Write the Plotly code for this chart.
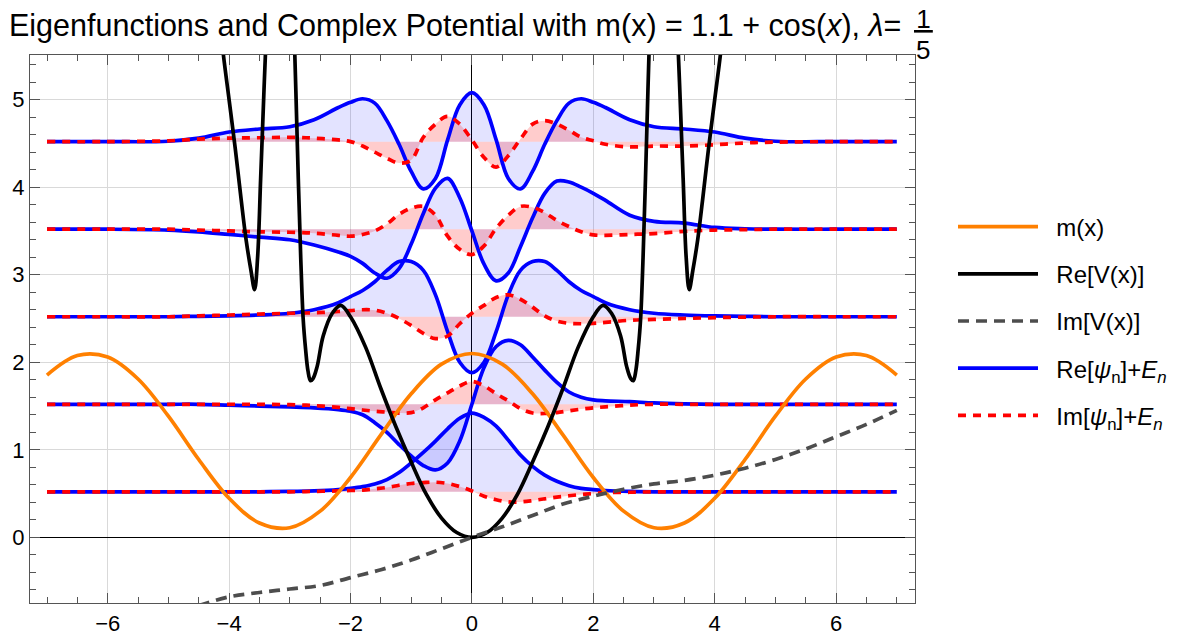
import plotly.graph_objects as go

# ---------------- data ----------------
X_M = [-7, -6.5, -6, -5.5, -5, -4.5, -4, -3.5, -3, -2.5, -2, -1.5, -1, -0.5, 0,
       0.5, 1, 1.5, 2, 2.5, 3, 3.5, 4, 4.5, 5, 5.5, 6, 6.5, 7]
M_VALS = [1.854, 2.077, 2.060, 1.809, 1.384, 0.889, 0.446, 0.164, 0.110, 0.299, 0.684, 1.171, 1.640, 1.978, 2.100,
          1.978, 1.640, 1.171, 0.684, 0.299, 0.110, 0.164, 0.446, 0.889, 1.384, 1.809, 2.060, 2.077, 1.854]

X_REV = [-4.16, -4.1, -4.0, -3.9, -3.8, -3.72, -3.64, -3.58, -3.53, -3.48, -3.42, -3.35, None,
         -2.95, -2.90, -2.86, -2.82, -2.78, -2.74, -2.70, -2.66, -2.62, -2.55, -2.45, -2.3, -2.16, -2.0,
         -1.75, -1.5, -1.25, -1.0, -0.75, -0.5, -0.25, 0,
         0.25, 0.5, 0.75, 1.0, 1.25, 1.5, 1.75,
         2.0, 2.16, 2.3, 2.45, 2.55, 2.62, 2.66, 2.70, 2.74, 2.78, 2.82, 2.86, 2.90, 2.95, None,
         3.35, 3.42, 3.48, 3.53, 3.58, 3.64, 3.72, 3.8, 3.9, 4.0, 4.1, 4.16]
RE_V = [6.0, 5.55, 5.0, 4.45, 3.85, 3.4, 3.05, 2.83, 3.2, 4.1, 5.2, 6.4, None,
        6.3, 5.1, 4.1, 3.2, 2.5, 2.15, 1.90, 1.79, 1.81, 1.95, 2.30, 2.56, 2.65, 2.52,
        2.17, 1.70, 1.26, 0.86, 0.49, 0.22, 0.055, 0.0,
        0.055, 0.22, 0.49, 0.86, 1.26, 1.70, 2.17,
        2.52, 2.65, 2.56, 2.30, 1.95, 1.81, 1.79, 1.90, 2.15, 2.5, 3.2, 4.1, 5.1, 6.3, None,
        6.4, 5.2, 4.1, 3.2, 2.83, 3.05, 3.4, 3.85, 4.45, 5.0, 5.55, 6.0]

X_IMV = [-4.5, -4, -3.5, -3, -2.5, -2, -1.5, -1, -0.5, 0, 0.5, 1, 1.5, 2, 2.5, 3, 3.5, 4, 4.5, 5, 5.5, 6, 6.5, 7]
IM_V = [-0.78, -0.68, -0.63, -0.59, -0.55, -0.46, -0.37, -0.26, -0.13, 0.0, 0.12, 0.25, 0.38, 0.47, 0.55,
        0.61, 0.65, 0.71, 0.79, 0.89, 1.01, 1.15, 1.29, 1.45]

E_N = [0.52, 1.52, 2.52, 3.52, 4.52]

X_PSI = [-7, -6, -5, -4.5, -4, -3.5, -3, -2.6, -2.2, -2.0, -1.8, -1.6, -1.4, -1.2, -1.0, -0.8, -0.6, -0.4, -0.2,
         0, 0.2, 0.4, 0.6, 0.8, 1.0, 1.2, 1.4, 1.6, 1.8, 2.0, 2.2, 2.6, 3, 3.5, 4, 4.5, 5, 6, 7]

RE_PSI0 = [0, 0, 0, 0, 0, 0, 0.005, 0.01, 0.025, 0.04, 0.06, 0.09, 0.14, 0.22, 0.33, 0.45, 0.58, 0.72, 0.84,
           0.90, 0.85, 0.75, 0.59, 0.42, 0.29, 0.19, 0.12, 0.07, 0.04, 0.025, 0.015, 0.005, 0, 0, 0, 0, 0, 0, 0]
IM_PSI0 = [0, 0, 0, 0, 0, 0, 0, 0.005, 0.01, 0.015, 0.02, 0.035, 0.05, 0.075, 0.095, 0.105, 0.11, 0.095, 0.06,
           0.01, -0.05, -0.09, -0.115, -0.115, -0.10, -0.08, -0.06, -0.045, -0.03, -0.02, -0.01, -0.005, 0, 0, 0, 0, 0, 0, 0]
RE_PSI1 = [0, 0, 0, 0, -0.01, -0.02, -0.03, -0.04, -0.06, -0.08, -0.12, -0.21, -0.32, -0.46, -0.59, -0.70, -0.75, -0.67, -0.42,
           0.0, 0.42, 0.66, 0.73, 0.68, 0.54, 0.39, 0.25, 0.14, 0.08, 0.05, 0.04, 0.03, 0.015, 0.005, 0, 0, 0, 0, 0]
IM_PSI1 = [0, 0, 0, 0, 0, 0, -0.005, -0.015, -0.035, -0.05, -0.065, -0.08, -0.09, -0.10, -0.095, -0.04, 0.05, 0.13, 0.21,
           0.26, 0.21, 0.12, 0.04, -0.05, -0.10, -0.105, -0.095, -0.075, -0.055, -0.04, -0.03, -0.01, 0, 0, 0, 0, 0, 0, 0]
RE_PSI2 = [0, 0, 0, 0.005, 0.01, 0.02, 0.04, 0.08, 0.16, 0.23, 0.30, 0.40, 0.53, 0.63, 0.63, 0.53, 0.25, -0.17, -0.52,
           -0.64, -0.52, -0.17, 0.25, 0.53, 0.63, 0.63, 0.53, 0.40, 0.30, 0.23, 0.16, 0.08, 0.04, 0.02, 0.01, 0.005, 0, 0, 0]
IM_PSI2 = [0, 0, 0, 0.01, 0.02, 0.03, 0.04, 0.045, 0.06, 0.07, 0.08, 0.075, 0.04, -0.02, -0.10, -0.19, -0.25, -0.22, -0.08,
           0.04, 0.13, 0.22, 0.25, 0.20, 0.11, 0.01, -0.05, -0.075, -0.08, -0.075, -0.065, -0.04, -0.03, -0.02, -0.01, -0.005, 0, 0, 0]
RE_PSI3 = [0, 0, -0.01, -0.03, -0.06, -0.09, -0.12, -0.18, -0.26, -0.31, -0.39, -0.50, -0.56, -0.45, -0.17, 0.18, 0.47, 0.58, 0.36,
           -0.02, -0.40, -0.59, -0.50, -0.20, 0.13, 0.41, 0.55, 0.54, 0.48, 0.41, 0.33, 0.16, 0.09, 0.07, 0.02, 0.005, 0, 0, 0]
IM_PSI3 = [0, 0, 0, -0.01, -0.02, -0.03, -0.035, -0.045, -0.07, -0.08, -0.06, -0.02, 0.06, 0.17, 0.24, 0.26, 0.16, -0.08, -0.23,
           -0.29, -0.19, 0.01, 0.16, 0.26, 0.25, 0.19, 0.10, 0.03, -0.03, -0.065, -0.07, -0.06, -0.05, -0.025, -0.01, -0.005, 0, 0, 0]
RE_PSI4 = [0, 0, 0.005, 0.04, 0.11, 0.145, 0.17, 0.25, 0.39, 0.45, 0.49, 0.44, 0.24, -0.03, -0.34, -0.54, -0.42, 0.02, 0.42,
           0.56, 0.42, 0.02, -0.42, -0.54, -0.34, -0.03, 0.24, 0.44, 0.49, 0.45, 0.39, 0.25, 0.17, 0.145, 0.11, 0.04, 0.005, 0, 0]
IM_PSI4 = [0, 0, 0.01, 0.03, 0.04, 0.045, 0.05, 0.04, 0.02, 0.0, -0.05, -0.12, -0.19, -0.245, -0.21, 0.05, 0.20, 0.29, 0.20,
           0.02, -0.18, -0.29, -0.16, 0.03, 0.20, 0.24, 0.20, 0.13, 0.05, 0.01, -0.03, -0.06, -0.05, -0.05, -0.035, -0.015, -0.005, 0, 0]

RE_PSI = [RE_PSI0, RE_PSI1, RE_PSI2, RE_PSI3, RE_PSI4]
IM_PSI = [IM_PSI0, IM_PSI1, IM_PSI2, IM_PSI3, IM_PSI4]

X_TICKS = [-6, -4, -2, 0, 2, 4, 6]
Y_TICKS = [0, 1, 2, 3, 4, 5]

# ---------------- styles ----------------
FONT = "Liberation Sans, Arial, sans-serif"
BLUE = "#0000FF"
RED = "#FF0000"
ORANGE = "#FF8000"
GRAY = "#4D4D4D"
FILL_RE = "rgba(0,0,255,0.11)"
FILL_IM = "rgba(255,0,0,0.20)"
FRAME = "#555555"
LW = 3.7

# plot-area pixel box (used for placing the title fraction)
L, R, T, B = 30, 915, 55, 603
W_PLOT, H_PLOT = R - L, B - T

fig = go.Figure()

# fills between each curve and its energy level
for n, E in enumerate(E_N):
    for vals, col in ((RE_PSI[n], FILL_RE), (IM_PSI[n], FILL_IM)):
        fig.add_trace(go.Scatter(x=X_PSI, y=[E] * len(X_PSI), mode="lines", line=dict(width=0),
                                 showlegend=False, hoverinfo="skip"))
        fig.add_trace(go.Scatter(x=X_PSI, y=[E + v for v in vals], mode="lines",
                                 line=dict(width=0, shape="spline"), fill="tonexty", fillcolor=col,
                                 showlegend=False, hoverinfo="skip"))

SP = "\u00a0\u00a0"
# real parts (blue)
for n, E in enumerate(E_N):
    fig.add_trace(go.Scatter(x=X_PSI, y=[E + v for v in RE_PSI[n]], mode="lines",
                             line=dict(color=BLUE, width=LW, shape="spline"),
                             name=SP + "Re[<i>ψ</i><sub>n</sub>]+<i>E<sub>n</sub></i>", legendgroup="re",
                             legendrank=4, showlegend=(n == 0)))
# imaginary parts (red dashed)
for n, E in enumerate(E_N):
    fig.add_trace(go.Scatter(x=X_PSI, y=[E + v for v in IM_PSI[n]], mode="lines",
                             line=dict(color=RED, width=LW, dash="8px,7px", shape="spline"),
                             name=SP + "Im[<i>ψ</i><sub>n</sub>]+<i>E<sub>n</sub></i>", legendgroup="im",
                             legendrank=5, showlegend=(n == 0)))

fig.add_trace(go.Scatter(x=X_M, y=M_VALS, mode="lines", line=dict(color=ORANGE, width=LW, shape="spline"),
                         name=SP + "m(x)", legendgroup="m", legendrank=1))
fig.add_trace(go.Scatter(x=X_REV, y=RE_V, mode="lines", line=dict(color="black", width=LW, shape="spline"),
                         name=SP + "Re[V(x)]", legendgroup="rv", legendrank=2, connectgaps=False))
fig.add_trace(go.Scatter(x=X_IMV, y=IM_V, mode="lines",
                         line=dict(color=GRAY, width=LW, dash="11px,7px", shape="spline"),
                         name=SP + "Im[V(x)]", legendgroup="iv", legendrank=3))

axis_common = dict(showgrid=True, gridcolor="#d9d9d9", gridwidth=1,
                   zeroline=True, zerolinecolor="black", zerolinewidth=1.2,
                   showline=True, linecolor=FRAME, linewidth=1.2, mirror="ticks",
                   ticks="inside", ticklen=10, tickwidth=1, tickcolor=FRAME, automargin=False,
                   tickfont=dict(family=FONT, size=22, color="black"))

fig.update_layout(
    width=1184, height=634, autosize=False,
    margin=dict(l=L, r=1184 - R, t=T, b=634 - B, autoexpand=False),
    paper_bgcolor="white", plot_bgcolor="white",
    font=dict(family=FONT, color="black"),
    title=dict(text="Eigenfunctions and Complex Potential with m(x) = 1.1 + cos(<i>x</i>), <i>λ</i>=",
               x=9 / 1184, xanchor="left", y=1 - 25 / 634, yanchor="middle",
               font=dict(family=FONT, size=30.5, color="black")),
    xaxis=dict(range=[-7.28, 7.30], tickvals=X_TICKS,
               minor=dict(ticks="inside", dtick=0.5, tick0=0, ticklen=6, tickcolor=FRAME, showgrid=False),
               **axis_common),
    yaxis=dict(range=[-0.75, 5.51], tickvals=Y_TICKS,
               minor=dict(ticks="inside", dtick=0.2, tick0=0, ticklen=6, tickcolor=FRAME, showgrid=False),
               **axis_common),
    legend=dict(x=(953 - L) / W_PLOT, xanchor="left", y=(B - 321) / H_PLOT, yanchor="middle",
                font=dict(family=FONT, size=24, color="black"), itemwidth=80,
                tracegroupgap=13, bgcolor="rgba(0,0,0,0)"),
    showlegend=True,
)

# stacked fraction 1/5 after "λ=" (numerator underlined to form the fraction bar)
FR_X = 923
fig.add_annotation(x=(FR_X - L) / W_PLOT, y=(B - 19) / H_PLOT, xref="paper", yref="paper",
                   text="<u>\u200a1\u200a</u>",
                   xanchor="center", yanchor="middle",
                   showarrow=False, font=dict(family=FONT, size=26, color="black"))
fig.add_annotation(x=(FR_X - L) / W_PLOT, y=(B - 50) / H_PLOT, xref="paper", yref="paper", text="5",
                   xanchor="center", yanchor="middle",
                   showarrow=False, font=dict(family=FONT, size=26, color="black"))

fig.write_html("out.html")
